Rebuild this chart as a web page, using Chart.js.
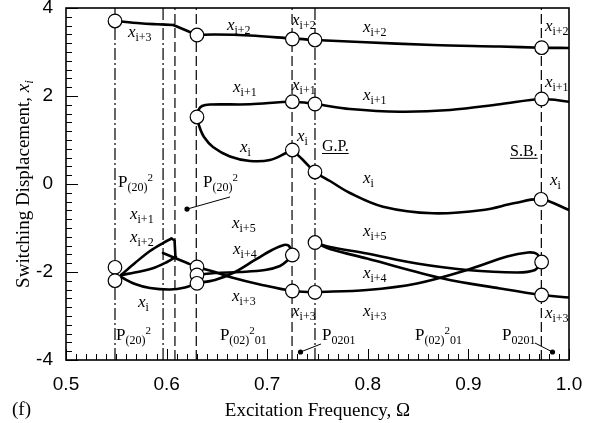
<!doctype html>
<html>
<head>
<meta charset="utf-8">
<title>Switching displacement vs excitation frequency</title>
<script src="https://cdn.jsdelivr.net/npm/chart.js@4.4.1/dist/chart.umd.min.js"></script>
<style>
  body { margin: 0; background: #fff; }
  canvas { display: block; }
</style>
</head>
<body>
<canvas id="chart" width="608" height="423"></canvas>
<script>
var xTickLabels = ['0.5', '0.6', '0.7', '0.8', '0.9', '1.0'];
var yTickLabels = ['-4', '-2', '0', '2', '4'];

// branch boundaries (Omega)
var dashedOmega = [0.6083, 0.6295, 0.7247, 0.9725];
var dashDotOmega = [0.5487, 0.5965, 0.7475];

// switching points, [Omega, x]
var branchPoints = [
  [0.5487, 3.705], [0.6302, 3.386], [0.7250, 3.295], [0.7475, 3.273], [0.9728, 3.098],
  [0.6302, 1.523], [0.7250, 1.870], [0.7475, 1.818], [0.9728, 1.932],
  [0.7250, 0.773], [0.7475, 0.273], [0.9722, -0.348],
  [0.5487, -1.893], [0.5487, -2.198],
  [0.6302, -1.886], [0.6302, -2.068], [0.6302, -2.257],
  [0.7250, -1.614], [0.7250, -2.432],
  [0.7475, -1.330], [0.7475, -2.461],
  [0.9728, -1.773], [0.9728, -2.523]
];

// upper branch x_{i+3} / x_{i+2}
var topLeft = [[0.5487, 3.705], [0.5736, 3.652], [0.5905, 3.630], [0.6067, 3.614]];
var topDrop = [[0.6067, 3.614], [0.6302, 3.386]];
var topRight = [[0.6302, 3.386], [0.6481, 3.398], [0.6829, 3.375], [0.7250, 3.307], [0.7475, 3.273],
  [0.7922, 3.227], [0.8648, 3.159], [0.9314, 3.125], [0.9728, 3.098], [1.0, 3.091]];

// x_{i+1}
var secondBranch = [[0.6302, 1.523], [0.6317, 1.682], [0.6352, 1.773], [0.6431, 1.807], [0.6829, 1.811],
  [0.7250, 1.870], [0.7475, 1.818], [0.7823, 1.705], [0.8320, 1.643], [0.8817, 1.682],
  [0.9314, 1.811], [0.9728, 1.932], [1.0, 1.870]];

// x_i
var thirdLoop = [[0.6302, 1.523], [0.6327, 1.295], [0.6372, 1.068], [0.6461, 0.841], [0.6630, 0.625],
  [0.6829, 0.523], [0.7028, 0.545], [0.7194, 0.711], [0.7250, 0.773]];
var thirdBranch = [[0.7250, 0.773], [0.7356, 0.545], [0.7475, 0.273], [0.7624, 0.068], [0.7823, -0.205],
  [0.8151, -0.516], [0.8648, -0.666], [0.9145, -0.591], [0.9463, -0.432], [0.9722, -0.348], [1.0, -0.591]];

// lower group, period-2 region
var lowUpperArc = [[0.5547, -2.068], [0.5686, -1.795], [0.5835, -1.523], [0.5964, -1.341], [0.6049, -1.239]];
var lowUpperDrop = [[0.6049, -1.239], [0.6079, -1.284], [0.6088, -1.659]];
var lowMidArc = [[0.5547, -2.068], [0.5736, -1.989], [0.5885, -1.898], [0.6004, -1.773], [0.6093, -1.659]];
var lowBottom = [[0.5547, -2.114], [0.5686, -2.273], [0.5835, -2.364], [0.6034, -2.398], [0.6183, -2.352], [0.6302, -2.257]];
var lowDescent = [[0.5964, -1.568], [0.6083, -1.682], [0.6193, -1.784], [0.6302, -1.886], [0.6481, -2.0],
  [0.6630, -2.114], [0.6928, -2.284], [0.7250, -2.432], [0.7475, -2.461]];
var lowFlat = [[0.6302, -2.068], [0.6481, -2.023], [0.6730, -2.0], [0.6978, -1.955], [0.7127, -1.864],
  [0.7207, -1.727], [0.7250, -1.614]];
var lowRise = [[0.6302, -2.250], [0.6481, -2.182], [0.6680, -2.0], [0.6879, -1.727], [0.7048, -1.5],
  [0.7167, -1.386], [0.7217, -1.409], [0.7250, -1.591]];

// lower group, right of G.P.
var rightUpper = [[0.7475, -1.330], [0.7624, -1.432], [0.7992, -1.580], [0.8489, -1.807], [0.8986, -1.955],
  [0.9483, -2.011], [0.9662, -1.955], [0.9728, -1.773]];
var rightLower = [[0.7475, -1.330], [0.7624, -1.477], [0.7992, -1.693], [0.8748, -2.148], [0.9314, -2.375],
  [0.9728, -2.523], [1.0, -2.580]];
var rightRise = [[0.7475, -2.455], [0.7992, -2.409], [0.8489, -2.261], [0.8986, -1.955], [0.9384, -1.648],
  [0.9592, -1.557], [0.9682, -1.591], [0.9728, -1.773]];

var curves = [topLeft, topDrop, topRight, secondBranch, thirdLoop, thirdBranch,
  lowUpperArc, lowUpperDrop, lowMidArc, lowBottom, lowDescent, lowFlat, lowRise,
  rightUpper, rightLower, rightRise];
var straight = [topDrop, lowUpperDrop];

// text labels: anchor [Omega, x], pieces [text, style]
var labels = [
  { at: [0.5616, 3.34], parts: [['x', 'it'], ['i+3', 'sub']] },
  { at: [0.6600, 3.50], parts: [['x', 'it'], ['i+2', 'sub']] },
  { at: [0.7247, 3.62], parts: [['x', 'it'], ['i+2', 'sub']] },
  { at: [0.7952, 3.46], parts: [['x', 'it'], ['i+2', 'sub']] },
  { at: [0.9761, 3.48], parts: [['x', 'it'], ['i+2', 'sub']] },
  { at: [0.6660, 2.09], parts: [['x', 'it'], ['i+1', 'sub']] },
  { at: [0.7247, 2.14], parts: [['x', 'it'], ['i+1', 'sub']] },
  { at: [0.7952, 1.91], parts: [['x', 'it'], ['i+1', 'sub']] },
  { at: [0.9761, 2.21], parts: [['x', 'it'], ['i+1', 'sub']] },
  { at: [0.6730, 0.73], parts: [['x', 'it'], ['i', 'sub']] },
  { at: [0.7296, 0.97], parts: [['x', 'it'], ['i', 'sub']] },
  { at: [0.7952, 0.02], parts: [['x', 'it'], ['i', 'sub']] },
  { at: [0.9811, -0.02], parts: [['x', 'it'], ['i', 'sub']] },
  { at: [0.7545, 0.75], parts: [['G.P.', 'u']] },
  { at: [0.9414, 0.64], parts: [['S.B.', 'u']] },
  { at: [0.5517, -0.07], parts: [['P', 'n'], ['(20)', 'sub'], ['2', 'sup']] },
  { at: [0.6362, -0.07], parts: [['P', 'n'], ['(20)', 'sub'], ['2', 'sup']] },
  { at: [0.5636, -0.79], parts: [['x', 'it'], ['i+1', 'sub']] },
  { at: [0.5636, -1.31], parts: [['x', 'it'], ['i+2', 'sub']] },
  { at: [0.5716, -2.79], parts: [['x', 'it'], ['i', 'sub']] },
  { at: [0.6650, -1.00], parts: [['x', 'it'], ['i+5', 'sub']] },
  { at: [0.6660, -1.59], parts: [['x', 'it'], ['i+4', 'sub']] },
  { at: [0.6650, -2.66], parts: [['x', 'it'], ['i+3', 'sub']] },
  { at: [0.7247, -3.00], parts: [['x', 'it'], ['i+3', 'sub']] },
  { at: [0.7952, -1.18], parts: [['x', 'it'], ['i+5', 'sub']] },
  { at: [0.7952, -2.14], parts: [['x', 'it'], ['i+4', 'sub']] },
  { at: [0.7952, -3.00], parts: [['x', 'it'], ['i+3', 'sub']] },
  { at: [0.9761, -3.05], parts: [['x', 'it'], ['i+3', 'sub']] },
  { at: [0.5497, -3.55], parts: [['P', 'n'], ['(20)', 'sub'], ['2', 'sup']] },
  { at: [0.6530, -3.55], parts: [['P', 'n'], ['(02)', 'sub'], ['2', 'sup'], ['01', 'sub']] },
  { at: [0.7545, -3.55], parts: [['P', 'n'], ['0201', 'sub']] },
  { at: [0.8469, -3.55], parts: [['P', 'n'], ['(02)', 'sub'], ['2', 'sup'], ['01', 'sub']] },
  { at: [0.9334, -3.55], parts: [['P', 'n'], ['0201', 'sub']] }
];

// pointer lines: from label to dot
var pointers = [
  [[0.6630, -0.295], [0.6203, -0.570]],
  [[0.7535, -3.636], [0.7331, -3.818]],
  [[0.9662, -3.614], [0.9836, -3.818]]
];

var SERIF = '"Liberation Serif", "Times New Roman", serif';

function toDataset(pts) {
  return pts.map(function (p) { return { x: p[0], y: p[1] }; });
}

var datasets = [];
datasets.push({
  data: toDataset(branchPoints),
  showLine: false,
  pointRadius: 6.8,
  pointBackgroundColor: '#fff',
  pointBorderColor: '#000',
  pointBorderWidth: 1.2,
  order: 0
});
curves.forEach(function (c) {
  datasets.push({
    data: toDataset(c),
    showLine: true,
    borderColor: '#000',
    borderWidth: 2.6,
    tension: straight.indexOf(c) >= 0 ? 0 : 0.35,
    borderCapStyle: 'round',
    borderJoinStyle: 'round',
    pointRadius: 0,
    order: 1
  });
});
function boundary(v, dash) {
  return {
    data: [{ x: v, y: -4 }, { x: v, y: 4 }],
    showLine: true,
    borderColor: '#000',
    borderWidth: 1.2,
    borderDash: dash,
    pointRadius: 0,
    order: 2
  };
}
dashedOmega.forEach(function (v) { datasets.push(boundary(v, [10, 4])); });
dashDotOmega.forEach(function (v) { datasets.push(boundary(v, [12, 3, 2, 3])); });

function drawParts(ctx, px, py, parts) {
  var cx = px;
  parts.forEach(function (p) {
    var dy = 0;
    if (p[1] === 'it') ctx.font = 'italic 17px ' + SERIF;
    else if (p[1] === 'sub') { ctx.font = '12px ' + SERIF; dy = 4; }
    else if (p[1] === 'sup') { ctx.font = '11px ' + SERIF; dy = -6; }
    else if (p[1] === 'u') ctx.font = '16px ' + SERIF;
    else ctx.font = '17px ' + SERIF;
    ctx.fillText(p[0], cx, py + dy);
    var w = ctx.measureText(p[0]).width;
    if (p[1] === 'u') {
      ctx.lineWidth = 1;
      ctx.beginPath();
      ctx.moveTo(cx, py + 2.5);
      ctx.lineTo(cx + w, py + 2.5);
      ctx.stroke();
    }
    cx += w;
  });
}

var decor = {
  id: 'decor',
  afterDraw: function (chart) {
    var ctx = chart.ctx, a = chart.chartArea;
    var xs = chart.scales.x, ys = chart.scales.y;
    ctx.save();
    ctx.strokeStyle = '#000';
    ctx.fillStyle = '#000';

    // inward ticks
    ctx.lineWidth = 1;
    ctx.beginPath();
    for (var i = 0; i <= 50; i++) {
      var px = Math.round(xs.getPixelForValue(0.5 + i * 0.01)) + 0.5;
      ctx.moveTo(px, a.bottom);
      ctx.lineTo(px, a.bottom - (i % 10 === 0 ? 11 : 6));
    }
    for (var j = 0; j <= 40; j++) {
      var py = Math.round(ys.getPixelForValue(-4 + j * 0.2)) + 0.5;
      ctx.moveTo(a.left, py);
      ctx.lineTo(a.left + (j % 10 === 0 ? 12 : 6), py);
    }
    ctx.stroke();

    // frame
    ctx.lineWidth = 1.6;
    ctx.strokeRect(a.left, a.top, a.right - a.left, a.bottom - a.top);

    // labels
    ctx.textBaseline = 'alphabetic';
    ctx.textAlign = 'left';
    labels.forEach(function (l) {
      drawParts(ctx, xs.getPixelForValue(l.at[0]), ys.getPixelForValue(l.at[1]), l.parts);
    });

    // pointers
    ctx.lineWidth = 1;
    pointers.forEach(function (p) {
      var x0 = xs.getPixelForValue(p[0][0]), y0 = ys.getPixelForValue(p[0][1]);
      var x1 = xs.getPixelForValue(p[1][0]), y1 = ys.getPixelForValue(p[1][1]);
      ctx.beginPath();
      ctx.moveTo(x0, y0);
      ctx.lineTo(x1, y1);
      ctx.stroke();
      ctx.beginPath();
      ctx.arc(x1, y1, 2.6, 0, Math.PI * 2);
      ctx.fill();
    });

    // axis titles
    ctx.font = '19px ' + SERIF;
    ctx.textAlign = 'center';
    ctx.fillText('Excitation Frequency, \u03A9', (a.left + a.right) / 2, 416);
    ctx.textAlign = 'left';
    ctx.fillText('(f)', 12, 415);

    ctx.save();
    ctx.translate(29, (a.top + a.bottom) / 2);
    ctx.rotate(-Math.PI / 2);
    var t1 = 'Switching Displacement, ';
    ctx.font = '19px ' + SERIF;
    var w1 = ctx.measureText(t1).width;
    ctx.font = 'italic 19px ' + SERIF;
    var w2 = ctx.measureText('x').width;
    ctx.font = 'italic 13px ' + SERIF;
    var w3 = ctx.measureText('i').width;
    var sx = -(w1 + w2 + w3) / 2;
    ctx.font = '19px ' + SERIF;
    ctx.fillText(t1, sx, 0);
    ctx.font = 'italic 19px ' + SERIF;
    ctx.fillText('x', sx + w1, 0);
    ctx.font = 'italic 13px ' + SERIF;
    ctx.fillText('i', sx + w1 + w2, 4);
    ctx.restore();

    ctx.restore();
  }
};

new Chart(document.getElementById('chart').getContext('2d'), {
  type: 'scatter',
  data: { datasets: datasets },
  options: {
    responsive: false,
    animation: false,
    layout: { padding: { top: 8, right: 39, left: 0, bottom: 0 } },
    plugins: { legend: { display: false }, tooltip: { enabled: false } },
    scales: {
      x: {
        type: 'linear',
        min: 0.5,
        max: 1.0,
        grid: { drawOnChartArea: false, drawTicks: false },
        border: { display: false },
        ticks: {
          stepSize: 0.1,
          padding: 13,
          color: '#000',
          font: { family: '"Liberation Sans", Arial, sans-serif', size: 19 },
          callback: function (v, i) { return xTickLabels[i]; }
        },
        afterFit: function (s) { s.height = 63; s.paddingLeft = 0; s.paddingRight = 0; }
      },
      y: {
        type: 'linear',
        min: -4,
        max: 4,
        grid: { drawOnChartArea: false, drawTicks: false },
        border: { display: false },
        ticks: {
          stepSize: 2,
          padding: 13,
          color: '#000',
          font: { family: '"Liberation Sans", Arial, sans-serif', size: 19 },
          callback: function (v, i) { return yTickLabels[i]; }
        },
        afterFit: function (s) { s.width = 66; s.paddingTop = 0; s.paddingBottom = 0; }
      }
    }
  },
  plugins: [decor]
});
</script>
</body>
</html>
